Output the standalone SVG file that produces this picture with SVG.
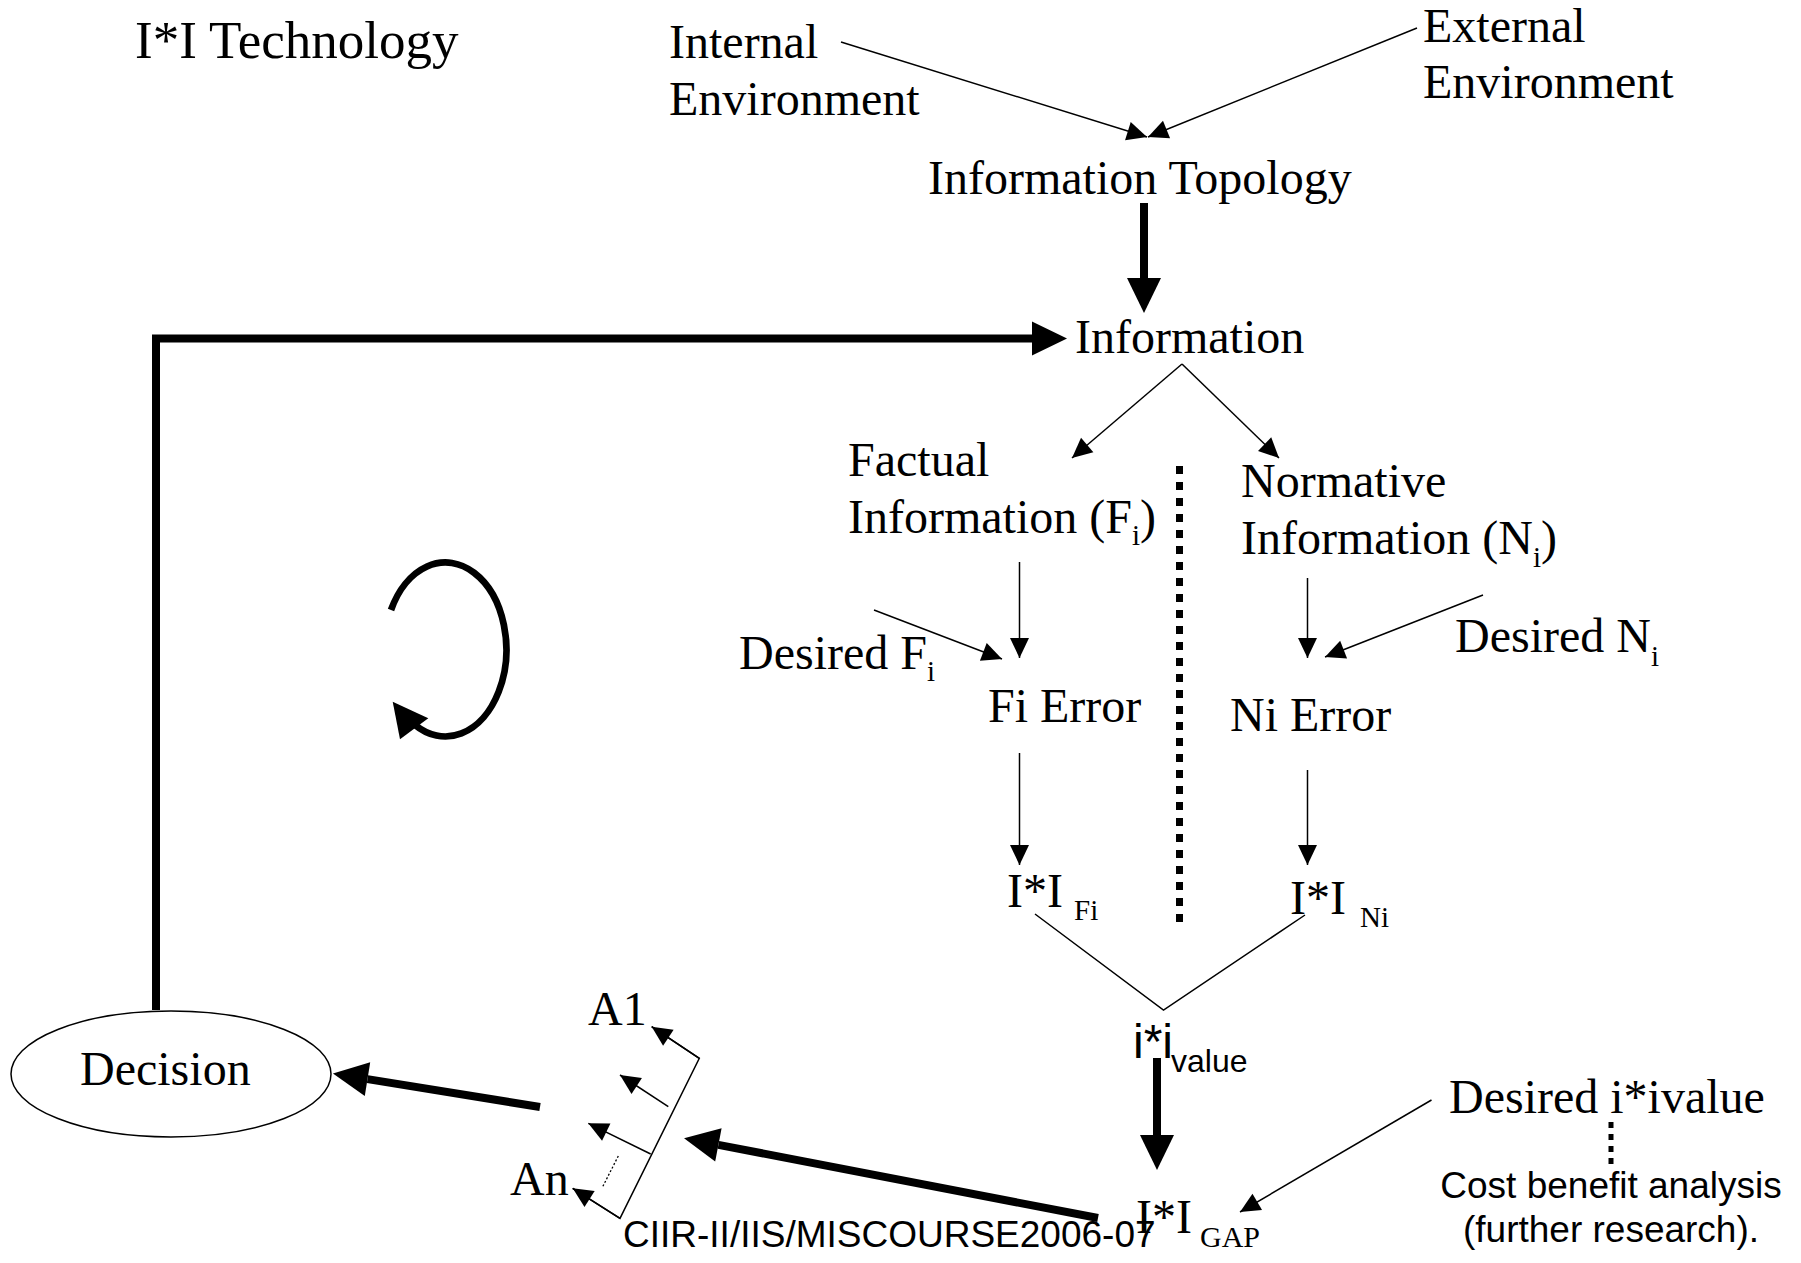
<svg xmlns="http://www.w3.org/2000/svg" width="1801" height="1263" viewBox="0 0 1801 1263">
  <style>
    .t { font-family: "Liberation Serif", "Times New Roman", serif; font-size: 48px; fill: #000; }
    .title { font-size: 53px; }
    .sub { font-size: 29px; }
    .gap { font-size: 30px; }
    .s { font-family: "Liberation Sans", Arial, sans-serif; fill: #000; }
    .thin { stroke: #000; stroke-width: 1.5; fill: none; marker-end: url(#ah); }
    .line { stroke: #000; stroke-width: 1.5; fill: none; }
    .thick { stroke: #000; stroke-width: 8; fill: none; marker-end: url(#AH); }
    .dots { stroke: #000; fill: none; }
  </style>
  <defs>
    <!-- small filled arrowhead, tip at line end -->
    <marker id="ah" markerUnits="userSpaceOnUse" markerWidth="21" markerHeight="21" refX="20" refY="10" orient="auto" overflow="visible">
      <path d="M0,0.5 L20,10 L0,19.5 z" fill="#000"/>
    </marker>
    <!-- large filled arrowhead, starts at line end -->
    <marker id="AH" markerUnits="userSpaceOnUse" markerWidth="36" markerHeight="36" refX="0" refY="17" orient="auto" overflow="visible">
      <path d="M0,0 L35,17 L0,34 z" fill="#000"/>
    </marker>
  </defs>

  <rect width="1801" height="1263" fill="#fff"/>

  <text class="t title" x="135" y="58">I*I Technology</text>

  <g id="connectors">
    <!-- environments into topology -->
    <line class="thin" x1="841" y1="42" x2="1147" y2="137"/>
    <line class="thin" x1="1417" y1="28" x2="1148" y2="137"/>
    <!-- topology to information -->
    <line class="thick" x1="1144" y1="203" x2="1144" y2="278"/>
    <!-- feedback from decision -->
    <polyline class="thick" points="156,1010 156,338.5 1032,338.5"/>
    <!-- information split -->
    <line class="thin" x1="1182" y1="364" x2="1072" y2="458"/>
    <line class="thin" x1="1182" y1="364" x2="1279" y2="458"/>
    <!-- factual branch -->
    <line class="thin" x1="1019.5" y1="562" x2="1019.5" y2="658"/>
    <line class="thin" x1="874" y1="610" x2="1002" y2="659"/>
    <line class="thin" x1="1019.5" y1="753" x2="1019.5" y2="865"/>
    <!-- normative branch -->
    <line class="thin" x1="1307.5" y1="578" x2="1307.5" y2="658"/>
    <line class="thin" x1="1483" y1="595" x2="1325" y2="657"/>
    <line class="thin" x1="1307.5" y1="770" x2="1307.5" y2="865"/>
    <!-- separator -->
    <line class="dots" x1="1179.5" y1="466" x2="1179.5" y2="923" stroke-width="7" stroke-dasharray="8 8"/>
    <!-- merge into value -->
    <polyline class="line" points="1035,914 1163.5,1010 1305,915"/>
    <!-- value to gap -->
    <line class="thick" x1="1157" y1="1058" x2="1157" y2="1135"/>
    <!-- desired value to gap -->
    <line class="thin" x1="1431.5" y1="1100" x2="1240" y2="1212"/>
    <line class="dots" x1="1611" y1="1122" x2="1611" y2="1166" stroke-width="5" stroke-dasharray="6 6"/>
    <!-- gap to alternatives -->
    <line class="thick" x1="1098" y1="1218" x2="718.4" y2="1144.9"/>
    <!-- alternatives bracket -->
    <polyline class="line" points="651.7,1026.7 699.3,1058.3 620,1218.3 572.7,1188.3"/>
    <line class="thin" x1="699.3" y1="1058.3" x2="651.7" y2="1026.7"/>
    <line class="thin" x1="668.3" y1="1106.7" x2="620" y2="1075"/>
    <line class="thin" x1="650.7" y1="1154" x2="588.3" y2="1123.3"/>
    <line class="thin" x1="620" y1="1218.3" x2="572.7" y2="1188.3"/>
    <line class="dots" x1="618.3" y1="1156" x2="602.7" y2="1186.7" stroke-width="1.3" stroke-dasharray="2 2"/>
    <!-- alternatives to decision -->
    <line class="thick" x1="540" y1="1107" x2="367.5" y2="1079.1"/>
  </g>

  <g id="cycle">
    <path d="M391,610 A61,87 0 1 1 414.6,724.6" fill="none" stroke="#000" stroke-width="6.7"/>
    <polygon points="392.7,701.7 428.3,718.3 400,739.3" fill="#000"/>
  </g>

  <g id="internal-environment">
    <text class="t" x="669" y="58">Internal</text>
    <text class="t" x="669" y="115">Environment</text>
  </g>
  <g id="external-environment">
    <text class="t" x="1423" y="42">External</text>
    <text class="t" x="1423" y="98">Environment</text>
  </g>
  <g id="information-topology">
    <text class="t" x="928" y="194">Information Topology</text>
  </g>
  <g id="information">
    <text class="t" x="1075" y="353">Information</text>
  </g>
  <g id="factual-information">
    <text class="t" x="848" y="476">Factual</text>
    <text class="t" x="848" y="533">Information (F<tspan class="sub" dy="12">i</tspan><tspan dy="-12">)</tspan></text>
  </g>
  <g id="normative-information">
    <text class="t" x="1241" y="497">Normative</text>
    <text class="t" x="1241" y="554">Information (N<tspan class="sub" dy="13">i</tspan><tspan dy="-13">)</tspan></text>
  </g>
  <g id="desired-fi">
    <text class="t" x="739" y="669">Desired F<tspan class="sub" dy="12">i</tspan></text>
  </g>
  <g id="desired-ni">
    <text class="t" x="1455" y="652">Desired N<tspan class="sub" dy="14">i</tspan></text>
  </g>
  <g id="fi-error">
    <text class="t" x="988" y="722">Fi Error</text>
  </g>
  <g id="ni-error">
    <text class="t" x="1230" y="731">Ni Error</text>
  </g>
  <g id="ii-fi">
    <text class="t" x="1007" y="906.5">I*I</text>
    <text class="t sub" x="1074" y="920">Fi</text>
  </g>
  <g id="ii-ni">
    <text class="t" x="1290" y="914">I*I</text>
    <text class="t sub" x="1360" y="927">Ni</text>
  </g>
  <g id="ii-value">
    <text class="s" x="1133" y="1058" font-size="48">i*i</text>
    <text class="s" x="1171" y="1072" font-size="32">value</text>
  </g>
  <g id="desired-value">
    <text class="t" x="1449" y="1113">Desired i*ivalue</text>
  </g>
  <g id="cost-benefit">
    <text class="s" x="1611" y="1198" font-size="37" text-anchor="middle">Cost benefit analysis</text>
    <text class="s" x="1611" y="1242" font-size="37" text-anchor="middle">(further research).</text>
  </g>
  <g id="ii-gap">
    <text class="t" x="1136" y="1233">I*I</text>
    <text class="t gap" x="1200" y="1247">GAP</text>
  </g>
  <g id="alternatives">
    <text class="t" x="588" y="1025">A1</text>
    <text class="t" x="510" y="1195">An</text>
  </g>
  <g id="decision">
    <ellipse cx="171" cy="1074" rx="160" ry="63" fill="#fff" stroke="#000" stroke-width="1.5"/>
    <text class="t" x="80" y="1085">Decision</text>
  </g>
  <g id="footer">
    <text class="s" x="623" y="1247" font-size="37">CIIR-II/IIS/MISCOURSE2006-07</text>
  </g>
</svg>
